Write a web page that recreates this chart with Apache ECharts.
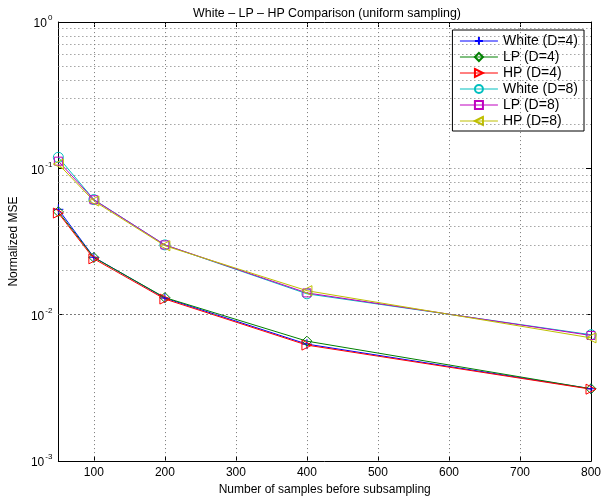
<!DOCTYPE html>
<html><head><meta charset="utf-8">
<script src="https://cdn.jsdelivr.net/npm/echarts@6/dist/echarts.min.js"></script>
<style>html,body{margin:0;padding:0;background:#fff}#c{width:609px;height:501px}</style>
</head><body><div id="c"></div>
<script>
var samples = [50, 100, 200, 400, 800];
var whiteD4 = [0.0525, 0.0247, 0.0130, 0.0063, 0.00312];
var lpD4    = [0.0505, 0.0246, 0.0131, 0.0066, 0.00312];
var hpD4    = [0.0495, 0.0241, 0.0128, 0.0062, 0.00310];
var whiteD8 = [0.119, 0.0612, 0.0300, 0.0139, 0.00730];
var lpD8    = [0.112, 0.0610, 0.0300, 0.0141, 0.00722];
var hpD8    = [0.107, 0.0598, 0.0296, 0.0146, 0.00695];
var seriesNames = ['White (D=4)', 'LP (D=4)', 'HP (D=4)', 'White (D=8)', 'LP (D=8)', 'HP (D=8)'];
var xTicks = [100, 200, 300, 400, 500, 600, 700, 800];
var yMinorGrid = [0.002,0.003,0.004,0.005,0.006,0.007,0.008,0.009,0.02,0.03,0.04,0.05,0.06,0.07,0.08,0.09,0.2,0.3,0.4,0.5,0.6,0.7,0.8,0.9];

var colors = ['#0000ff', '#008000', '#ff0000', '#00bfbf', '#bf00bf', '#bfbf00'];
var symbols = [
  'path://M5,0 L5,10 M0,5 L10,5',
  'path://M5,0 L10,5 L5,10 L0,5 Z',
  'path://M0,0 L10,5 L0,10 Z',
  'circle',
  'rect',
  'path://M10,0 L0,5 L10,10 Z'
];
var symSizes = [10, 10, 10, 10, 8, 10];
var values = [whiteD4, lpD4, hpD4, whiteD8, lpD8, hpD8];
var FONT = '"Liberation Sans", Arial, sans-serif';

var gridStyle = {color: '#777', width: 1, type: [1, 3]};

var series = values.map(function (v, i) {
  return {
    name: seriesNames[i],
    type: 'line',
    data: samples.map(function (x, k) { return [x, v[k]]; }),
    symbol: symbols[i],
    symbolSize: symSizes[i],
    showAllSymbol: true,
    lineStyle: {color: colors[i], width: 1},
    itemStyle: {color: 'rgba(255,255,255,0)', borderColor: colors[i], borderWidth: 1},
    color: colors[i],
    animation: false,
    z: 3
  };
});
series.push({
  type: 'line', data: [], silent: true, animation: false,
  markLine: {
    silent: true, symbol: 'none', animation: false,
    label: {show: false},
    lineStyle: gridStyle,
    data: yMinorGrid.map(function (y) { return {yAxis: y}; }).concat(
      xTicks.slice(0, -1).map(function (x) { return {xAxis: x}; }))
  }
});

function supLabel(v) {
  var e = Math.round(Math.log10(v));
  return '{b|10}{s|' + e + '}';
}

var option = {
  backgroundColor: '#fff',
  textStyle: {fontFamily: FONT},
  title: {
    text: 'White \u2013 LP \u2013 HP Comparison (uniform sampling)',
    left: 322, top: 3, textAlign: 'center',
    textStyle: {fontFamily: FONT, fontSize: 12.4, fontWeight: 'normal', color: '#000'}
  },
  grid: {left: 53, right: 18, top: 22, bottom: 36},
  legend: {
    orient: 'vertical',
    right: 25, top: 30,
    padding: [4, 6, 3, 7],
    backgroundColor: '#fff',
    borderColor: '#000', borderWidth: 1,
    itemWidth: 38, itemHeight: 10, itemGap: 2, itemTextGap: 4,
    lineStyle: {width: 1},
    textStyle: {fontFamily: FONT, fontSize: 14, lineHeight: 13, color: '#000'},
    data: seriesNames
  },
  xAxis: [{
    type: 'value', min: 50, max: 800,
    name: 'Number of samples before subsampling',
    nameLocation: 'middle', nameGap: 22,
    nameTextStyle: {fontFamily: FONT, fontSize: 12, color: '#000'},
    axisLine: {lineStyle: {color: '#000', width: 1}},
    axisTick: {inside: true, length: 5, customValues: xTicks, lineStyle: {color: '#000'}},
    axisLabel: {customValues: xTicks, fontFamily: FONT, fontSize: 12, color: '#000', margin: 6},
    splitLine: {show: false}
  }, {
    type: 'value', min: 50, max: 800, position: 'top',
    axisLine: {lineStyle: {color: '#000', width: 1}},
    axisTick: {inside: true, length: 5, customValues: xTicks, lineStyle: {color: '#000'}},
    axisLabel: {show: false},
    splitLine: {show: false}
  }],
  yAxis: [{
    type: 'log', logBase: 10, min: 0.001, max: 1,
    name: 'Normalized MSE',
    nameLocation: 'middle', nameGap: 27,
    nameTextStyle: {fontFamily: FONT, fontSize: 12, color: '#000'},
    axisLine: {show: true, lineStyle: {color: '#000', width: 1}},
    axisTick: {show: true, inside: true, length: 5, lineStyle: {color: '#000'}},
    axisLabel: {
      fontFamily: FONT, color: '#000', margin: 6,
      formatter: supLabel,
      rich: {
        b: {fontFamily: FONT, fontSize: 12, color: '#000', lineHeight: 16, verticalAlign: 'bottom'},
        s: {fontFamily: FONT, fontSize: 8, color: '#000', verticalAlign: 'top', lineHeight: 16, padding: [0, 0, 0, 1]}
      }
    },
    splitLine: {show: true, lineStyle: gridStyle}
  }, {
    type: 'log', logBase: 10, min: 0.001, max: 1, position: 'right',
    axisLine: {show: true, lineStyle: {color: '#000', width: 1}},
    axisTick: {show: true, inside: true, length: 5, lineStyle: {color: '#000'}},
    axisLabel: {show: false},
    splitLine: {show: false}
  }],
  series: series
};

var chart = echarts.init(document.getElementById('c'), null, {renderer: 'canvas'});
chart.setOption(option);
</script>
</body></html>
